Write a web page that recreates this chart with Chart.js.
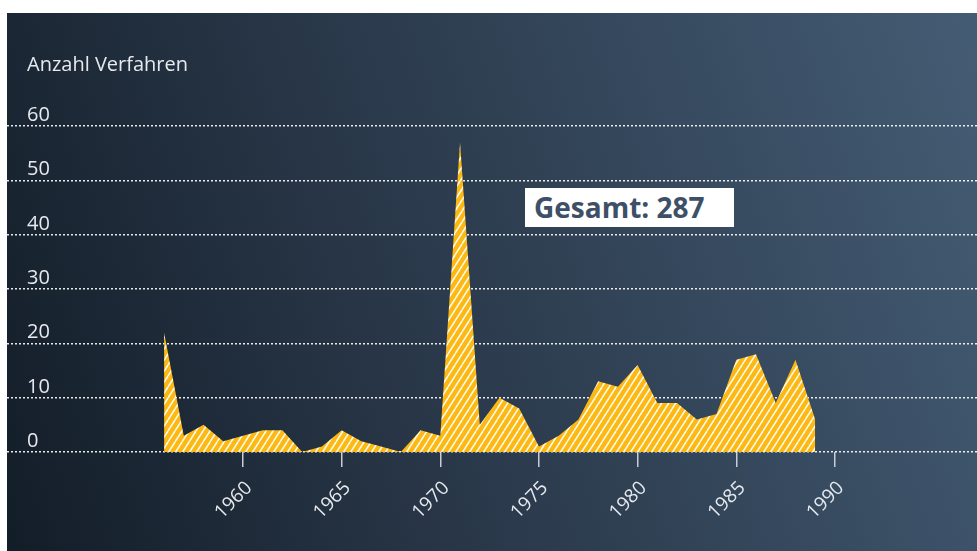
<!DOCTYPE html>
<html>
<head>
<meta charset="utf-8">
<script src="https://cdn.jsdelivr.net/npm/chart.js@4.4.1/dist/chart.umd.min.js"></script>
<style>
  body { margin: 0; background: #fff; }
  #panel {
    position: absolute; left: 7px; top: 13px; width: 970px; height: 538px;
    background: linear-gradient(72deg, #131d28 0%, #2b3a4c 45%, #445c74 100%);
  }
  #total {
    position: absolute; left: 518px; top: 175px; width: 209px; height: 39px;
    background: #fff; color: #3e5068;
    font: bold 28px "Open Sans", sans-serif; line-height: 39px;
    padding-left: 9px; box-sizing: border-box; white-space: nowrap;
  }
</style>
</head>
<body>
<div id="panel">
  <canvas id="chart" width="970" height="538"></canvas>
  <div id="total">Gesamt: 287</div>
</div>
<script>
const years = [1956, 1957, 1958, 1959, 1960, 1961, 1962, 1963, 1964, 1965, 1966, 1967,
  1968, 1969, 1970, 1971, 1972, 1973, 1974, 1975, 1976, 1977, 1978, 1979, 1980, 1981,
  1982, 1983, 1984, 1985, 1986, 1987, 1988, 1989];
const counts = [22, 3, 5, 2, 3, 4, 4, 0, 1, 4, 2, 1,
  0, 4, 3, 57, 5, 10, 8, 1, 3, 6, 13, 12, 16, 9,
  9, 6, 7, 17, 18, 9, 17, 6];
const xTicks = [1960, 1965, 1970, 1975, 1980, 1985, 1990];
const yTicks = [0, 10, 20, 30, 40, 50, 60];
const yTitle = 'Anzahl Verfahren';

// hatched yellow fill
function makeHatch() {
  const w = 7, h = 11;
  const c = document.createElement('canvas');
  c.width = w; c.height = h;
  const g = c.getContext('2d');
  g.fillStyle = '#fdb913';
  g.fillRect(0, 0, w, h);
  g.strokeStyle = 'rgba(255,255,255,0.95)';
  g.lineWidth = 1.5;
  for (let k = -1; k <= 1; k++) {
    g.beginPath();
    g.moveTo(k * w, h);
    g.lineTo(k * w + w, 0);
    g.stroke();
  }
  return g.createPattern(c, 'repeat');
}

const yLabels = {
  id: 'yLabels',
  afterDraw(chart) {
    const ctx = chart.ctx;
    const y = chart.scales.y;
    ctx.save();
    ctx.fillStyle = '#e6e9ee';
    ctx.font = '20px "Open Sans", sans-serif';
    ctx.textAlign = 'left';
    ctx.textBaseline = 'alphabetic';
    yTicks.forEach(v => ctx.fillText(String(v), 20, y.getPixelForValue(v) - 5));
    ctx.fillText(yTitle, 20, 58);
    ctx.restore();
  }
};

new Chart(document.getElementById('chart'), {
  type: 'line',
  data: {
    datasets: [{
      data: years.map((yr, i) => ({ x: yr, y: counts[i] })),
      fill: 'origin',
      backgroundColor: makeHatch(),
      borderWidth: 0,
      pointRadius: 0,
      tension: 0
    }]
  },
  options: {
    responsive: false,
    animation: false,
    layout: { padding: { top: 113, left: 0, right: 0, bottom: 0 } },
    plugins: { legend: { display: false }, tooltip: { enabled: false } },
    scales: {
      x: {
        type: 'linear',
        min: 1948.04,
        max: 1997.2,
        afterBuildTicks: axis => { axis.ticks = xTicks.map(v => ({ value: v })); },
        afterFit: s => { s.height = 99; },
        border: { display: false },
        grid: { drawOnChartArea: false, tickLength: 15, color: '#c9cdd3', lineWidth: 1.5 },
        ticks: {
          minRotation: 45, maxRotation: 45, padding: 10, labelOffset: 6,
          color: '#e6e9ee', font: { family: 'Open Sans', size: 19 },
          callback: v => String(v)
        }
      },
      y: {
        min: 0,
        max: 60,
        afterBuildTicks: axis => { axis.ticks = yTicks.map(v => ({ value: v })); },
        afterFit: s => { s.width = 0; },
        border: { display: false, dash: [2, 2] },
        grid: { color: 'rgba(255,255,255,0.9)', lineWidth: 1.5, drawTicks: false },
        ticks: { display: false }
      }
    }
  },
  plugins: [yLabels]
});
</script>
</body>
</html>
